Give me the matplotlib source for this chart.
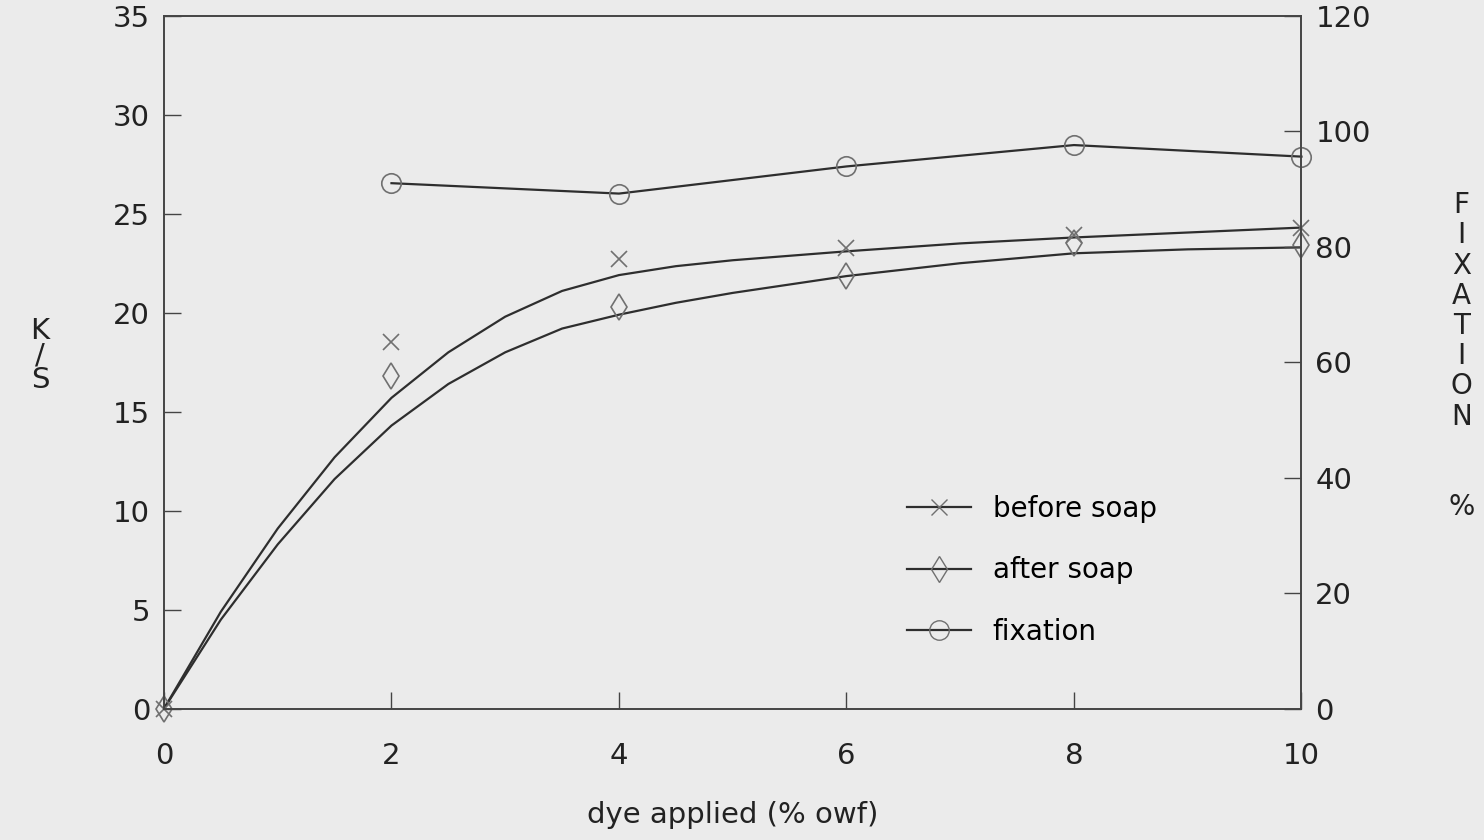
import numpy as np
import matplotlib.pyplot as plt
from matplotlib.lines import Line2D

plt.rcParams['font.family'] = ['DejaVu Sans']

# measured points
dye = [0, 2, 4, 6, 8, 10]
ks_before = [0, 18.5, 22.7, 23.25, 23.9, 24.3]
ks_after = [0, 16.8, 20.3, 21.85, 23.5, 23.4]
fix_x = [2, 4, 6, 8, 10]
fixation = [91.0, 89.2, 93.9, 97.6, 95.6]

# fitted curves as drawn in the figure
curve_x = [0, 0.5, 1, 1.5, 2, 2.5, 3, 3.5, 4, 4.5, 5, 6, 7, 8, 9, 10]
curve_before = [0, 4.9, 9.1, 12.7, 15.7, 18.0, 19.8, 21.1, 21.9, 22.35, 22.65, 23.1, 23.5, 23.8, 24.05, 24.3]
curve_after = [0, 4.5, 8.3, 11.6, 14.3, 16.4, 18.0, 19.2, 19.9, 20.5, 21.0, 21.85, 22.5, 23.0, 23.2, 23.3]

bg = '#ebebeb'
line_c = '#2e2e2e'
mark_c = '#707070'

fig = plt.figure(figsize=(14.84, 8.4), dpi=100, facecolor=bg)
ax = fig.add_axes([0.1105, 0.1563, 0.7665, 0.825])
ax.set_facecolor(bg)
ax2 = ax.twinx()

ax.plot(curve_x, curve_before, color=line_c, lw=1.6)
ax.plot(curve_x, curve_after, color=line_c, lw=1.6)
ax.plot(dye, ks_before, ls='none', marker='x', ms=12, mew=1.2, color=mark_c, clip_on=False)
ax.plot(dye, ks_after, ls='none', marker='d', ms=13, mew=1.2, mfc='none', mec=mark_c, clip_on=False)
ax2.plot(fix_x, fixation, color=line_c, lw=1.6, marker='o', ms=14, mfc='none', mec=mark_c, mew=1.2, clip_on=False)

ax.set_xlim(0, 10)
ax.set_ylim(0, 35)
ax2.set_ylim(0, 120)
ax.set_xticks(range(0, 11, 2))
ax.set_yticks(range(0, 36, 5))
ax2.set_yticks(range(0, 121, 20))

for s in ax.spines.values():
    s.set_color('#444444')
    s.set_linewidth(1.2)
for s in ax2.spines.values():
    s.set_color('#444444')
    s.set_linewidth(1.2)

ax.tick_params(axis='x', direction='in', length=12, width=1, colors='#444444',
               labelcolor='#222222', labelsize=21, pad=24)
ax.tick_params(axis='y', direction='in', length=12, width=1, colors='#444444',
               labelcolor='#222222', labelsize=21, pad=10)
ax2.tick_params(axis='y', direction='in', length=12, width=1, colors='#444444',
                labelcolor='#222222', labelsize=21, pad=10)

ax.set_xlabel('dye applied (% owf)', fontsize=21, color='#222222', labelpad=22)
fig.text(0.027, 0.577, 'K\n/\nS', fontsize=21, color='#222222', ha='center', va='center',
         linespacing=0.85)
fig.text(0.985, 0.576, 'F\nI\nX\nA\nT\nI\nO\nN\n\n\n%', fontsize=20, color='#222222',
         ha='center', va='center', linespacing=1.1)

handles = [
    Line2D([], [], color=line_c, lw=1.6, marker='x', ms=12, mec=mark_c),
    Line2D([], [], color=line_c, lw=1.6, marker='d', ms=13, mfc='none', mec=mark_c),
    Line2D([], [], color=line_c, lw=1.6, marker='o', ms=14, mfc='none', mec=mark_c),
]
ax.legend(handles, ['before soap', 'after soap', 'fixation'], loc='lower left',
          bbox_to_anchor=(0.631, 0.055), frameon=False, fontsize=20, handlelength=2.3,
          labelspacing=1.2, handletextpad=0.8)

fig.savefig('out.png', dpi=100, facecolor=bg)
